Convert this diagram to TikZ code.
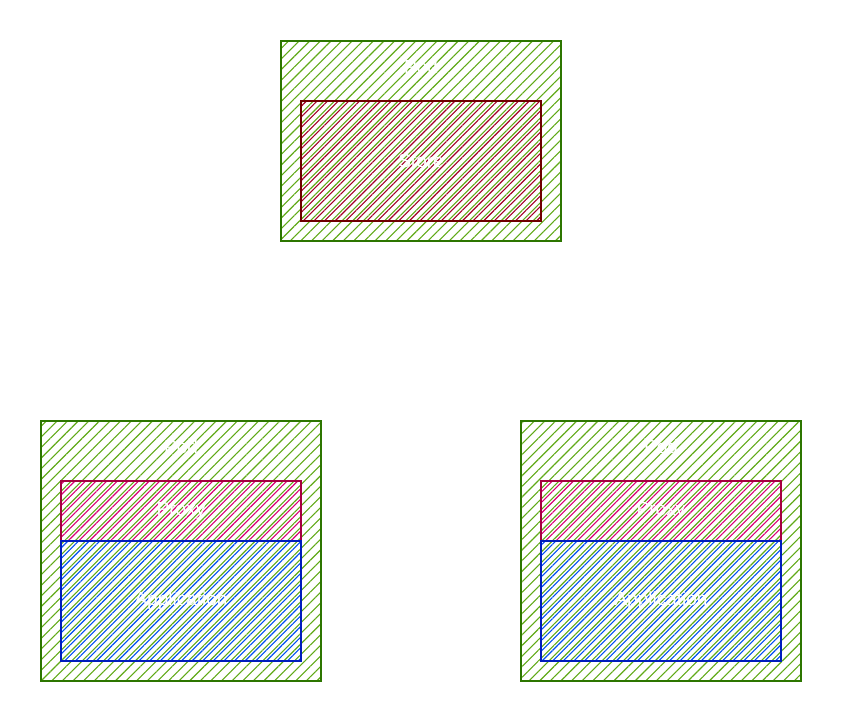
\documentclass[tikz,border=0pt]{standalone}
\usepackage{fontspec}
\setmainfont{Liberation Sans}
\usetikzlibrary{patterns.meta}
\definecolor{podfill}{HTML}{60A917}
\definecolor{podline}{HTML}{2D7600}
\definecolor{storefill}{HTML}{A20025}
\definecolor{storeline}{HTML}{6F0000}
\definecolor{proxyfill}{HTML}{D80073}
\definecolor{proxyline}{HTML}{A50040}
\definecolor{appfill}{HTML}{0050EF}
\definecolor{appline}{HTML}{001DBC}
\begin{document}
\begin{tikzpicture}[x=1pt,y=-1pt,
  hbox/.style={anchor=north west, inner sep=0pt, outer sep=0pt, line width=1.5pt},
  podbox/.style={hbox, draw=podline, pattern={Lines[angle=45,distance=7.5pt,line width=1.1pt]},
    pattern color=podfill, minimum width=280pt, minimum height=#1},
  innerbox/.style={hbox, pattern={Lines[angle=45,distance=7.5pt,line width=1.1pt,xshift=3.7pt]}},
  storebox/.style={innerbox, draw=storeline, pattern color=storefill, minimum width=240pt, minimum height=120pt},
  proxybox/.style={innerbox, draw=proxyline, pattern color=proxyfill, minimum width=240pt, minimum height=60pt},
  appbox/.style={innerbox, draw=appline, pattern color=appfill, minimum width=240pt, minimum height=120pt},
  lbl/.style={text=white, font=\fontsize{19}{22}\selectfont}
]
\useasboundingbox (0,0) rectangle (842,722);
% top pod
\node[podbox=200pt] (pod1) at (281,41) {};
\node[storebox] (store) at (301,101) {};
\node[lbl] (pod1l) at (421,67) {Pod};
\node[lbl] (storel) at (store.center) {Store};
% bottom left pod
\node[podbox=260pt] (pod2) at (41,421) {};
\node[proxybox] (proxy2) at (61,481) {};
\node[appbox] (app2) at (61,541) {};
\node[lbl] (pod2l) at (181,447) {Pod};
\node[lbl] (proxy2l) at (proxy2.center) {Proxy};
\node[lbl] (app2l) at (app2.center) {Application};
% bottom right pod
\node[podbox=260pt] (pod3) at (521,421) {};
\node[proxybox] (proxy3) at (541,481) {};
\node[appbox] (app3) at (541,541) {};
\node[lbl] (pod3l) at (661,447) {Pod};
\node[lbl] (proxy3l) at (proxy3.center) {Proxy};
\node[lbl] (app3l) at (app3.center) {Application};
\end{tikzpicture}
\end{document}
